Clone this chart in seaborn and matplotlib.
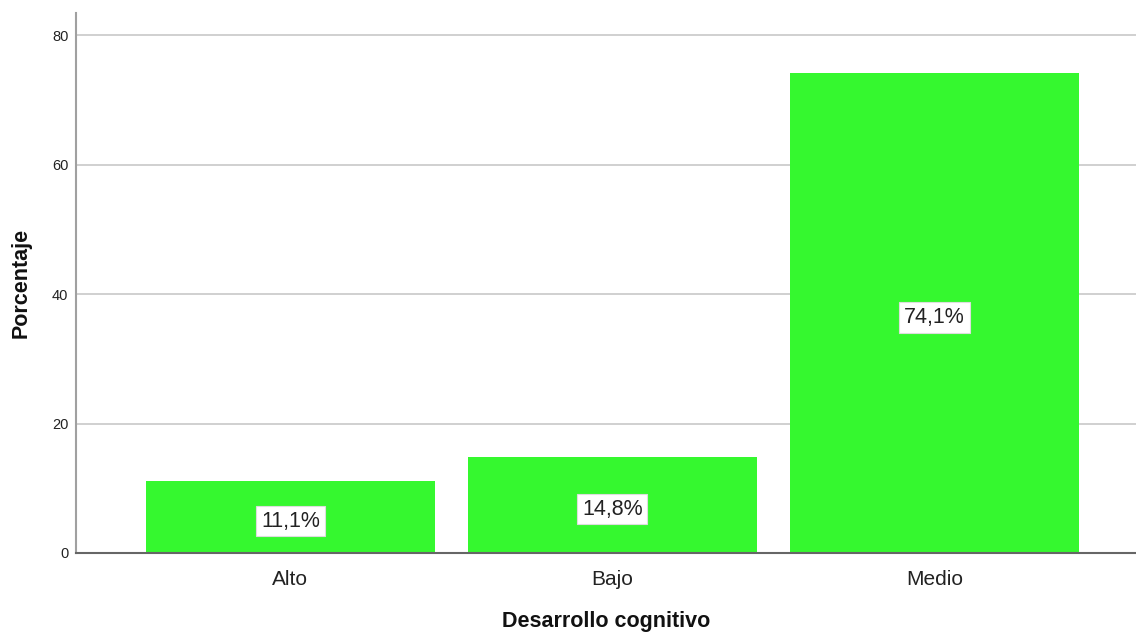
import matplotlib
matplotlib.use("Agg")
import matplotlib.pyplot as plt
import matplotlib.transforms as mtransforms
import seaborn as sns
import pandas as pd

categorias = ["Alto", "Bajo", "Medio"]
porcentajes = [11.1, 14.8, 74.1]
ticks_y = [0, 20, 40, 60, 80]

sns.set_theme(style="white")
plt.rcParams["font.family"] = ["Liberation Sans", "DejaVu Sans"]

df = pd.DataFrame({"Desarrollo cognitivo": categorias, "Porcentaje": porcentajes})

fig = plt.figure(figsize=(11.36, 6.32), dpi=100)
ax = fig.add_axes([0.0669, 0.125, 0.9331, 0.8544])

sns.barplot(data=df, x="Desarrollo cognitivo", y="Porcentaje", color="#35f82f",
            saturation=1, width=0.897, ax=ax, edgecolor="none", zorder=3)

ax.set_ylim(0, 83.4)
ax.set_xlim(-0.666, 2.626)
ax.set_yticks(ticks_y)
ax.set_yticklabels([str(t) for t in ticks_y], fontsize=10.5, color="#222222")
ax.tick_params(axis="x", labelsize=15, colors="#222222", length=0, pad=12)
ax.tick_params(axis="y", length=0, pad=5.5)
ax.yaxis.grid(True, color="#c8c8c8", linewidth=1.2, zorder=0)
ax.set_axisbelow(True)

for s in ["top", "right"]:
    ax.spines[s].set_visible(False)
ax.spines["left"].set_color("#a0a0a0")
ax.spines["left"].set_linewidth(1.5)
ax.spines["bottom"].set_color("#666666")
ax.spines["bottom"].set_linewidth(1.5)
ax.spines["bottom"].set_zorder(4)

ax.set_xlabel("Desarrollo cognitivo", fontsize=15.5, fontweight="bold", labelpad=16,
              color="#111111")
ax.set_ylabel("Porcentaje", fontsize=15.5, fontweight="bold", labelpad=15,
              color="#111111")

# value labels sit slightly below the bar's mid-height
shift = mtransforms.offset_copy(ax.transData, fig=fig, x=0, y=-3, units="points")
for i, v in enumerate(porcentajes):
    ax.text(i, v / 2, f"{v:.1f}%".replace(".", ","), ha="center", va="center",
            fontsize=15.5, color="#222222", zorder=5, transform=shift,
            bbox=dict(boxstyle="square,pad=0.22", facecolor="white",
                      edgecolor="#dddddd", linewidth=0.8))

fig.savefig("out.png", dpi=100)
